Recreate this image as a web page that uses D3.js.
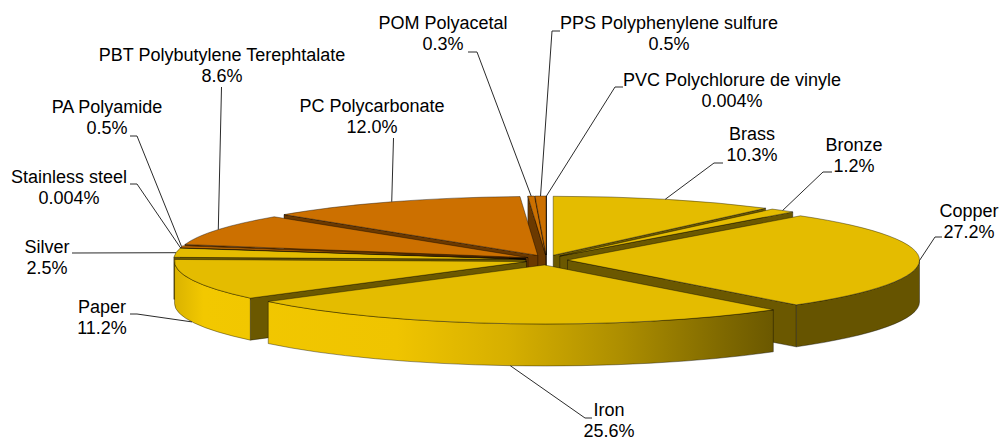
<!DOCTYPE html>
<html>
<head>
<meta charset="utf-8">
<title>Materials share - 3D pie</title>
<script src="https://d3js.org/d3.v7.min.js"></script>
<style>
  body { margin: 0; background: #fff; }
  text { font-family: "Liberation Sans", Arial, sans-serif; font-size: 18px; fill: #000; }
  .face { stroke: rgba(0,0,0,0.55); stroke-width: 0.7px; stroke-linejoin: round; }
  .leader { fill: none; stroke: #2b2b2b; stroke-width: 1px; }
</style>
</head>
<body>
<svg width="1000" height="441"></svg>
<script>
// data, clockwise from 12 o'clock
const materials = ["Brass", "Bronze", "Copper", "Iron", "Paper", "Silver", "Stainless steel",
  "PA Polyamide", "PBT Polybutylene Terephtalate", "PC Polycarbonate", "POM Polyacetal",
  "PPS Polyphenylene sulfure", "PVC Polychlorure de vinyle"];
const shares = [10.3, 1.2, 27.2, 25.6, 11.2, 2.5, 0.004, 0.5, 8.6, 12.0, 0.3, 0.5, 0.004];
const kinds = ["metal", "metal", "metal", "metal", "paper", "metal", "metal",
  "plastic", "plastic", "plastic", "plastic", "plastic", "plastic"];

// label layout: [centre x, first baseline y] and label-side leader points
const labelAt = [[752, 140], [854, 151], [969, 217], [609, 416], [102, 313], [47, 253], [69, 183],
  [107, 113], [222, 61], [372, 112], [443, 29], [669, 29], [732, 86]];
const leaderFrom = [
  [[723, 163], [714, 163]], [[832, 172], [823, 172]], [[942, 237], [935, 237]],
  [[592, 418], [585, 418]], [[130, 314], [137, 314]], [[72, 253]], [[130, 184], [137, 184]],
  [[130, 136], [137, 136]], [[221.5, 87]], [[393.5, 138]], [[468, 52], [477, 52]],
  [[560, 31], [552, 31]], [[623, 87], [615, 87]]];

const data = materials.map(function(m, i) { return { name: m, share: shares[i], kind: kinds[i], i: i }; });

var svg = d3.select("svg");
const cx = 546.5, cy = 260, rx = 352, ry = 59, depth = 42, ex = 21, ey = 5;

const topColor = { metal: "#E4BC00", paper: "#E4BC00", plastic: "#CC7000" };
const cutColor = { metal: "#6B5800", paper: "#6B5800", plastic: "#6B3900" };
const wallGrad = { metal: "gMetal", paper: "gMetal", plastic: "gPlastic" };

// lighting of the rim, left bright to right dark
var defs = svg.append("defs");
function gradient(id, stops) {
  var g = defs.append("linearGradient").attr("id", id)
    .attr("gradientUnits", "userSpaceOnUse")
    .attr("x1", cx - rx - ex).attr("x2", cx + rx + ex).attr("y1", 0).attr("y2", 0);
  stops.forEach(function(s) { g.append("stop").attr("offset", s[0]).attr("stop-color", s[1]); });
}
gradient("gMetal", [[0, "#D9B200"], [0.04, "#F2C800"], [0.3, "#EFC400"], [0.45, "#D6AF00"],
  [0.6, "#AD8E00"], [0.74, "#7E6800"], [0.82, "#665400"], [1, "#665400"]]);
gradient("gPlastic", [[0, "#D87800"], [0.05, "#F08400"], [0.45, "#C46A00"], [0.8, "#6B3A00"], [1, "#6B3A00"]]);

var pie = d3.pie().sort(null).value(function(d) { return d.share; });
var slices = pie(data);

function mid(d) { return (d.startAngle + d.endAngle) / 2; }
function off(d) { var a = mid(d); return [ex * Math.sin(a), -ey * Math.cos(a)]; }
function pt(a, o, z) { return [cx + o[0] + rx * Math.sin(a), cy + o[1] - ry * Math.cos(a) + z]; }

function topPath(d) {
  var o = off(d), c = [cx + o[0], cy + o[1]];
  var large = d.endAngle - d.startAngle > Math.PI ? 1 : 0;
  return "M" + c + "L" + pt(d.startAngle, o, 0) +
    "A" + rx + "," + ry + " 0 " + large + " 1 " + pt(d.endAngle, o, 0) + "Z";
}
function wallPath(d, b0, b1) {
  var o = off(d);
  return "M" + pt(b0, o, 0) + "A" + rx + "," + ry + " 0 0 1 " + pt(b1, o, 0) +
    "L" + pt(b1, o, depth) + "A" + rx + "," + ry + " 0 0 0 " + pt(b0, o, depth) + "Z";
}
function cutPath(d, a) {
  var o = off(d), c = [cx + o[0], cy + o[1]];
  return "M" + c + "L" + pt(a, o, 0) + "L" + pt(a, o, depth) + "L" + [c[0], c[1] + depth] + "Z";
}

// radial cut faces facing the viewer
var cuts = [];
slices.forEach(function(d) {
  var o = off(d), c = cy + o[1];
  if (Math.sin(d.startAngle) < -1e-6) cuts.push({ d: d, a: d.startAngle, key: (c + pt(d.startAngle, o, 0)[1]) / 2 });
  if (Math.sin(d.endAngle) > 1e-6) cuts.push({ d: d, a: d.endAngle, key: (c + pt(d.endAngle, o, 0)[1]) / 2 });
});
cuts.sort(function(a, b) { return a.key - b.key; });

var g = svg.append("g");
g.selectAll(".cut").data(cuts).enter().append("path")
  .attr("class", "face cut")
  .attr("d", function(c) { return cutPath(c.d, c.a); })
  .attr("fill", function(c) { return cutColor[c.d.data.kind]; });

// outer rim, front half only
var walls = [];
slices.forEach(function(d) {
  var b0 = Math.max(d.startAngle, Math.PI / 2), b1 = Math.min(d.endAngle, 3 * Math.PI / 2);
  if (b1 > b0) walls.push({ d: d, b0: b0, b1: b1 });
});
g.selectAll(".wall").data(walls).enter().append("path")
  .attr("class", "face wall")
  .attr("d", function(w) { return wallPath(w.d, w.b0, w.b1); })
  .attr("fill", function(w) { return "url(#" + wallGrad[w.d.data.kind] + ")"; });

g.selectAll(".top").data(slices).enter().append("path")
  .attr("class", "face top")
  .attr("d", topPath)
  .attr("fill", function(d) { return topColor[d.data.kind]; });

// leader lines
function anchor(d) {
  var a = mid(d), front = a > Math.PI * 100 / 180 && a < Math.PI * 260 / 180;
  return pt(a, off(d), front ? depth : 0);
}
svg.append("g").selectAll("path").data(slices).enter().append("path")
  .attr("class", "leader")
  .attr("d", function(d) {
    var pts = leaderFrom[d.data.i].concat([anchor(d)]);
    return d3.line()(pts);
  });

var fmt1 = d3.format(".1f"), fmt3 = d3.format(".3f");
var labels = svg.append("g").selectAll("text").data(slices).enter().append("text")
  .attr("text-anchor", "middle")
  .attr("x", function(d) { return labelAt[d.data.i][0]; })
  .attr("y", function(d) { return labelAt[d.data.i][1]; });
labels.append("tspan").text(function(d) { return d.data.name; });
labels.append("tspan")
  .attr("x", function(d) { return labelAt[d.data.i][0]; })
  .attr("dy", 21)
  .text(function(d) { return (d.data.share >= 0.1 ? fmt1(d.data.share) : fmt3(d.data.share)) + "%"; });
</script>
</body>
</html>
